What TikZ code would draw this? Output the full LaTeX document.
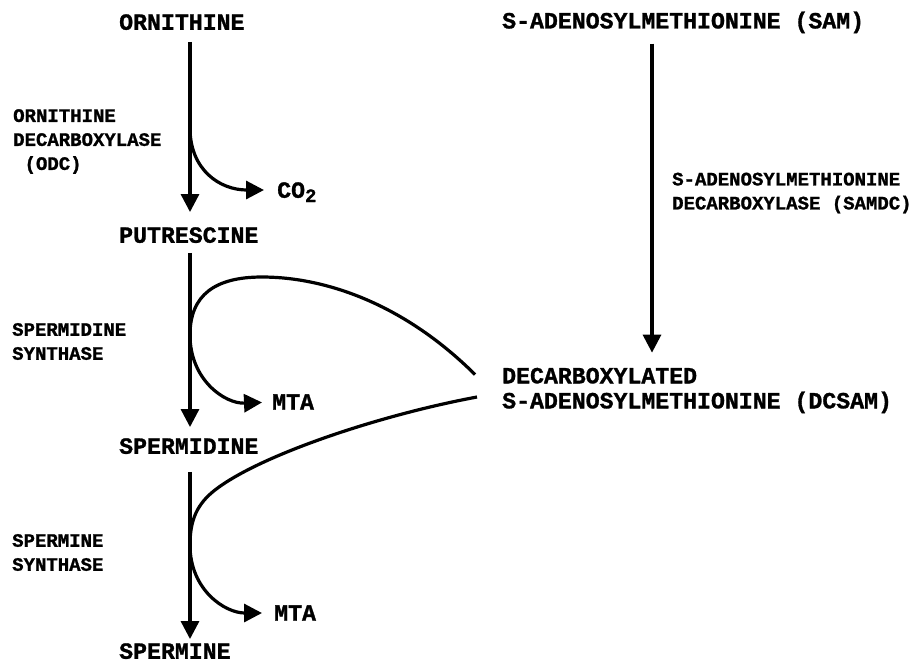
\documentclass[tikz,border=0pt]{standalone}
\usepackage{fontspec}
\setmainfont{Liberation Mono}[BoldFeatures={FakeBold=1.2}]
\usepackage{tikz}
\usetikzlibrary{arrows.meta, positioning}
\newcommand\bigfont{\fontsize{23.2pt}{25pt}\selectfont\bfseries}
\newcommand\smallfont{\fontsize{19pt}{24pt}\selectfont\bfseries}
\tikzstyle{metab} = [
    anchor=west, inner sep=0pt, text depth=0pt,
    font=\bigfont]
\tikzstyle{metabtwo} = [
    anchor=west, inner sep=0pt, align=left,
    font=\bigfont]
\tikzstyle{enzyme} = [
    anchor=west, inner sep=0pt, align=left,
    font=\smallfont]
\tikzstyle{arrow} = [line width=3.2pt, -{Triangle[length=18pt, width=18pt]}]

\begin{document}
\begin{tikzpicture}[x=1pt, y=-1pt]
  \useasboundingbox (0,0) rectangle (917,665);

  % left column: polyamine chain
  \node (orn) [metab] at (119,22) {ORNITHINE};
  \node (put) [metab] at (119,235) {PUTRESCINE};
  \node (spd) [metab] at (119,446) {SPERMIDINE};
  \node (spm) [metab] at (119,651) {SPERMINE};
  \node (co2) [metab] at (277,190) {CO\raisebox{-0.35ex}{\fontsize{19pt}{19pt}\selectfont 2}};
  \node (mta1) [metab] at (272,402) {MTA};
  \node (mta2) [metab] at (274,613) {MTA};

  \node (odc) [enzyme] at (13,141.5)
      {ORNITHINE\\DECARBOXYLASE\\\hspace*{0.6em}(ODC)};
  \node (spds) [enzyme] at (12,341.5) {SPERMIDINE\\SYNTHASE};
  \node (spms) [enzyme] at (12,552.5) {SPERMINE\\SYNTHASE};

  % right column: SAM branch
  \node (sam) [metab] at (502,20) {S-ADENOSYLMETHIONINE (SAM)};
  \node (samdc) [enzyme] at (672,193)
      {S-ADENOSYLMETHIONINE\\DECARBOXYLASE (SAMDC)};
  \node (dcsam) [metabtwo] at (502,390.5)
      {DECARBOXYLATED\\S-ADENOSYLMETHIONINE (DCSAM)};

  \coordinate (lax) at (190,0);
  \coordinate (rax) at (652,0);
  \coordinate (dcin1) at ([xshift=-27pt, yshift=16pt]dcsam.west);
  \coordinate (dcin2) at ([xshift=-25pt, yshift=-6.5pt]dcsam.west);

  \draw [arrow] ([yshift=-12pt]lax |- orn.south) -- ([yshift=15pt]lax |- put.north);
  \draw [arrow] ([yshift=-10pt]lax |- put.south) -- ([yshift=11pt]lax |- spd.north);
  \draw [arrow] ([yshift=-18pt]lax |- spd.south) -- ([yshift=4pt]lax |- spm.north);
  \draw [arrow] ([yshift=-15pt]rax |- sam.south) -- ([yshift=15pt]rax |- dcsam.north);

  % side products
  \draw [arrow, shorten >=13pt] (190,128) .. controls (190,170) and (220,190) .. (co2.west);
  \draw [arrow, shorten >=10pt] (dcin1)
      .. controls (400,300) and (320,277) .. (262,277)
      .. controls (215,277) and (190,295) .. (190,335)
      .. controls (190,380) and (225,404) .. (mta1.west);
  \draw [arrow, shorten >=12pt] (dcin2)
      .. controls (380,415) and (260,455) .. (215,490)
      .. controls (197,504) and (190,520) .. (190,545)
      .. controls (190,590) and (225,613) .. (mta2.west);

\end{tikzpicture}
\end{document}
